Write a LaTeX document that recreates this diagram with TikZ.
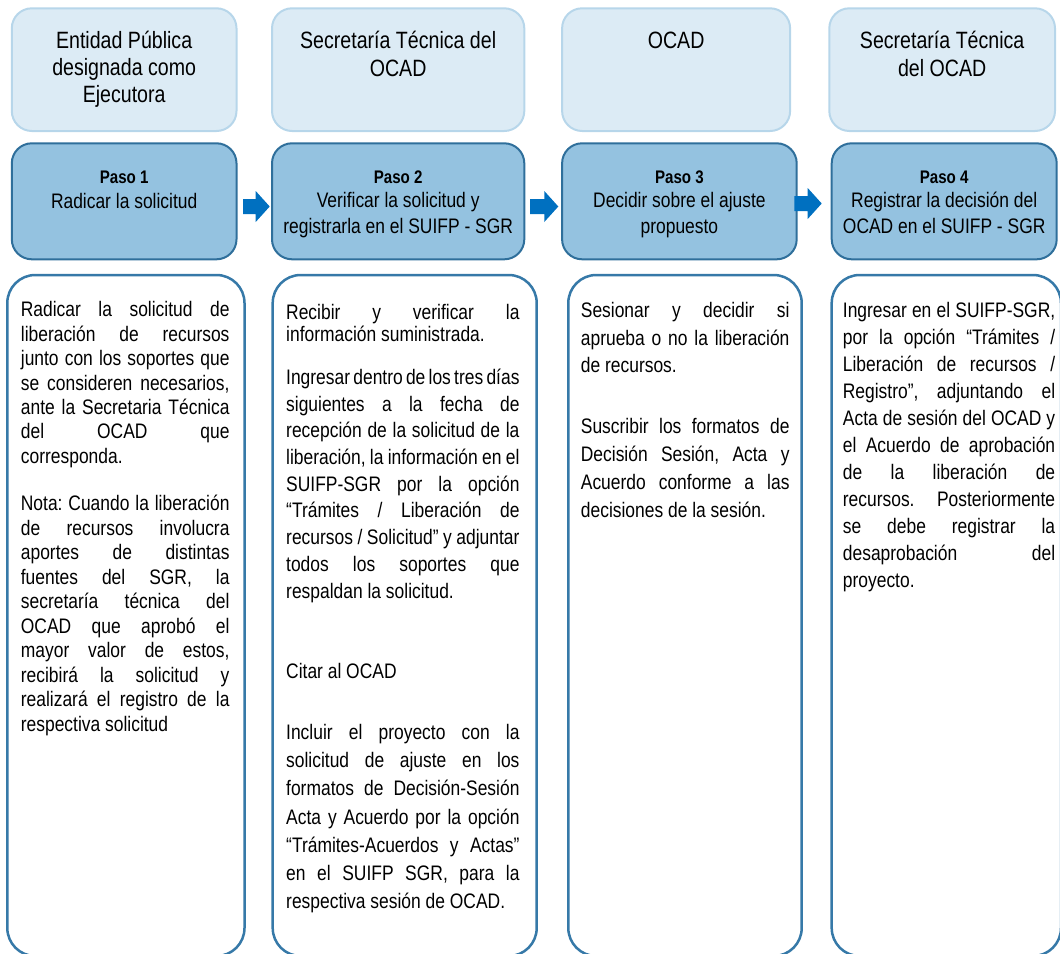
\documentclass[tikz,border=0pt]{standalone}
\usepackage{fontspec}
\setmainfont{Liberation Sans}[FakeStretch=0.83]
\usetikzlibrary{calc}
\definecolor{headfill}{HTML}{DCEBF5}
\definecolor{headline}{HTML}{B7D6EA}
\definecolor{stepfill}{HTML}{94C2E0}
\definecolor{stepline}{HTML}{2F6F9B}
\definecolor{bodyline}{HTML}{3679A8}
\definecolor{arrowc}{HTML}{0070C0}
\newlength\nskip \setlength\nskip{4.85pt plus 2.4pt minus 1.6pt}
\newlength\jskip \setlength\jskip{4.85pt plus 1fil minus 1.9pt}
\newlength\cskip \setlength\cskip{4.85pt}
\newlength\hskipsp \setlength\hskipsp{5.45pt}
\newlength\pskipsp \setlength\pskipsp{4.2pt}
\newcommand\bodyf[1]{\fontsize{21}{#1}\selectfont\frenchspacing\spaceskip=\nskip\xspaceskip=\nskip\relax}
\newcommand\stepf{\fontsize{21}{24.2}\selectfont\frenchspacing\spaceskip=\cskip\xspaceskip=\cskip\relax}
\newcommand\headf{\fontsize{23.6}{26.7}\selectfont\frenchspacing\spaceskip=\hskipsp\xspaceskip=\hskipsp\relax}
\newcommand\jlin[1]{\noindent{\spaceskip=\jskip\xspaceskip=\jskip\relax\makebox[\linewidth][s]{\strut#1}}\par}
\newcommand\lastlin[1]{\noindent\strut#1\par}
\newcommand\pasoline[1]{{\fontsize{18.2}{24.2}\selectfont\bfseries\spaceskip=\pskipsp\relax\strut #1}}
% block arrow from node #1 to node #2; #3 start offset, #4 tip offset, #5 vertical offset
\newcommand\blockarrow[5]{%
 \fill[flow] let \p1=(#1.east), \p2=(#2.west) in
 (\x1#3,\y1#5+7.5pt) -- (\x2#4-14pt,\y1#5+7.5pt) -- (\x2#4-14pt,\y1#5+15.5pt) -- (\x2#4,\y1#5)
 -- (\x2#4-14pt,\y1#5-15.5pt) -- (\x2#4-14pt,\y1#5-7.5pt) -- (\x1#3,\y1#5-7.5pt) -- cycle;}

\begin{document}
\begin{tikzpicture}[x=1pt,y=-1pt,
 headbox/.style={draw=headline, line width=2pt, fill=headfill, rounded corners=20pt, inner sep=0pt},
 stepbox/.style={draw=stepline, line width=2pt, fill=stepfill, rounded corners=20pt, inner sep=0pt},
 bodybox/.style={draw=bodyline, line width=2.5pt, fill=white, rounded corners=28pt, inner sep=0pt},
 headtext/.style={anchor=north, inner sep=0pt, text width=250pt, align=center},
 steptext/.style={anchor=north, inner sep=0pt, text width=270pt, align=center},
 bodytext/.style={anchor=north west, inner sep=0pt},
 flow/.style={fill=arrowc}
]
\useasboundingbox (0,0) rectangle (1060,953);
\clip (0,0) rectangle (1060,953);

% header boxes
\node[headbox, minimum width=224.7pt, minimum height=122.7pt] (h1) at (124.15,69.65) {};
\node[headbox, minimum width=252.3pt, minimum height=122.7pt] (h2) at (398.15,69.65) {};
\node[headbox, minimum width=228pt, minimum height=122.7pt] (h3) at (676.1,69.65) {};
\node[headbox, minimum width=225.7pt, minimum height=122.7pt] (h4) at (942.15,69.65) {};

\node[headtext] (h1t) at (124.15,29.6) {\headf\strut Entidad Pública\\\strut designada como\\\strut Ejecutora};
\node[headtext] (h2t) at (398.15,29.6) {\headf\strut Secretaría Técnica del\\\strut OCAD};
\node[headtext] (h3t) at (676.1,29.6) {\headf\strut OCAD};
\node[headtext] (h4t) at (942.15,29.6) {\headf\strut Secretaría Técnica\\\strut del OCAD};

% step boxes
\node[stepbox, minimum width=224.7pt, minimum height=116pt] (s1) at (124.15,201.3) {};
\node[stepbox, minimum width=252.3pt, minimum height=116pt] (s2) at (398.15,201.3) {};
\node[stepbox, minimum width=234.6pt, minimum height=116pt] (s3) at (679.4,201.3) {};
\node[stepbox, minimum width=225pt, minimum height=116pt] (s4) at (944.2,201.3) {};

\node[steptext] (s1t) at (124.15,166.56) {\stepf\pasoline{Paso 1}\\\strut Radicar la solicitud};
\node[steptext] (s2t) at (398.15,166.56) {\stepf\pasoline{Paso 2}\\\strut Verificar la solicitud y\\\strut registrarla en el SUIFP - SGR};
\node[steptext] (s3t) at (679.4,166.56) {\stepf\pasoline{Paso 3}\\\strut Decidir sobre el ajuste\\\strut propuesto};
\node[steptext] (s4t) at (944.2,166.56) {\stepf\pasoline{Paso 4}\\\strut Registrar la decisión del\\\strut OCAD en el SUIFP - SGR};

% block arrows between steps
\blockarrow{s1}{s2}{+5.5pt}{-1.3pt}{-5.2pt}
\blockarrow{s2}{s3}{+4.7pt}{-2.8pt}{-5.2pt}
\blockarrow{s3}{s4}{-3.4pt}{-9pt}{-2.2pt}

% body boxes
\node[bodybox, minimum width=237.2pt, minimum height=681pt] (b1) at (125.9,615.5) {};
\node[bodybox, minimum width=264pt, minimum height=681pt] (b2) at (404.7,615.5) {};
\node[bodybox, minimum width=233.4pt, minimum height=681pt] (b3) at (685,615.5) {};
\node[bodybox, minimum width=229.3pt, minimum height=681pt] (b4) at (946.35,615.5) {};

% body texts
\node[bodytext, text width=208.6pt] (b1a) at (20.7,299.6) {\bodyf{24.4}%
\jlin{Radicar la solicitud de}
\jlin{liberación de recursos}
\jlin{junto con los soportes que}
\jlin{se consideren necesarios,}
\jlin{ante la Secretaria Técnica}
\jlin{del OCAD que}
\lastlin{corresponda.}};
\node[bodytext, text width=208.6pt] (b1b) at (20.7,493.5) {\bodyf{24.5}%
\jlin{Nota: Cuando la liberación}
\jlin{de recursos involucra}
\jlin{aportes de distintas}
\jlin{fuentes del SGR, la}
\jlin{secretaría técnica del}
\jlin{OCAD que aprobó el}
\jlin{mayor valor de estos,}
\jlin{recibirá la solicitud y}
\jlin{realizará el registro de la}
\lastlin{respectiva solicitud}};

\node[bodytext, text width=233.3pt] (b2a) at (286,303.1) {\bodyf{22.7}%
\jlin{Recibir y verificar la}
\lastlin{información suministrada.}};
\node[bodytext, text width=233.3pt] (b2b) at (286,365.6) {\bodyf{26.7}%
\jlin{Ingresar dentro de los tres días}
\jlin{siguientes a la fecha de}
\jlin{recepción de la solicitud de la}
\jlin{liberación, la información en el}
\jlin{SUIFP-SGR por la opción}
\jlin{“Trámites / Liberación de}
\jlin{recursos / Solicitud” y adjuntar}
\jlin{todos los soportes que}
\lastlin{respaldan la solicitud.}};
\node[bodytext, text width=233.3pt] (b2c) at (286,659.6) {\bodyf{26.7}%
\lastlin{Citar al OCAD}};
\node[bodytext, text width=233.3pt] (b2d) at (286,719.56) {\bodyf{28.2}%
\jlin{Incluir el proyecto con la}
\jlin{solicitud de ajuste en los}
\jlin{formatos de Decisión-Sesión}
\jlin{Acta y Acuerdo por la opción}
\jlin{“Trámites-Acuerdos y Actas”}
\jlin{en el SUIFP SGR, para la}
\lastlin{respectiva sesión de OCAD.}};

\node[bodytext, text width=208.6pt] (b3a) at (580.7,298.45) {\bodyf{27.5}%
\jlin{Sesionar y decidir si}
\jlin{aprueba o no la liberación}
\lastlin{de recursos.}};
\node[bodytext, text width=208.6pt] (b3b) at (580.7,413.7) {\bodyf{28}%
\jlin{Suscribir los formatos de}
\jlin{Decisión Sesión, Acta y}
\jlin{Acuerdo conforme a las}
\lastlin{decisiones de la sesión.}};

\node[bodytext, text width=212.3pt] (b4a) at (842.7,298.8) {\bodyf{27}%
\jlin{Ingresar en el SUIFP-SGR,}
\jlin{por la opción “Trámites /}
\jlin{Liberación de recursos /}
\jlin{Registro”, adjuntando el}
\jlin{Acta de sesión del OCAD y}
\jlin{el Acuerdo de aprobación}
\jlin{de la liberación de}
\jlin{recursos. Posteriormente}
\jlin{se debe registrar la}
\jlin{desaprobación del}
\lastlin{proyecto.}};
\end{tikzpicture}
\end{document}
